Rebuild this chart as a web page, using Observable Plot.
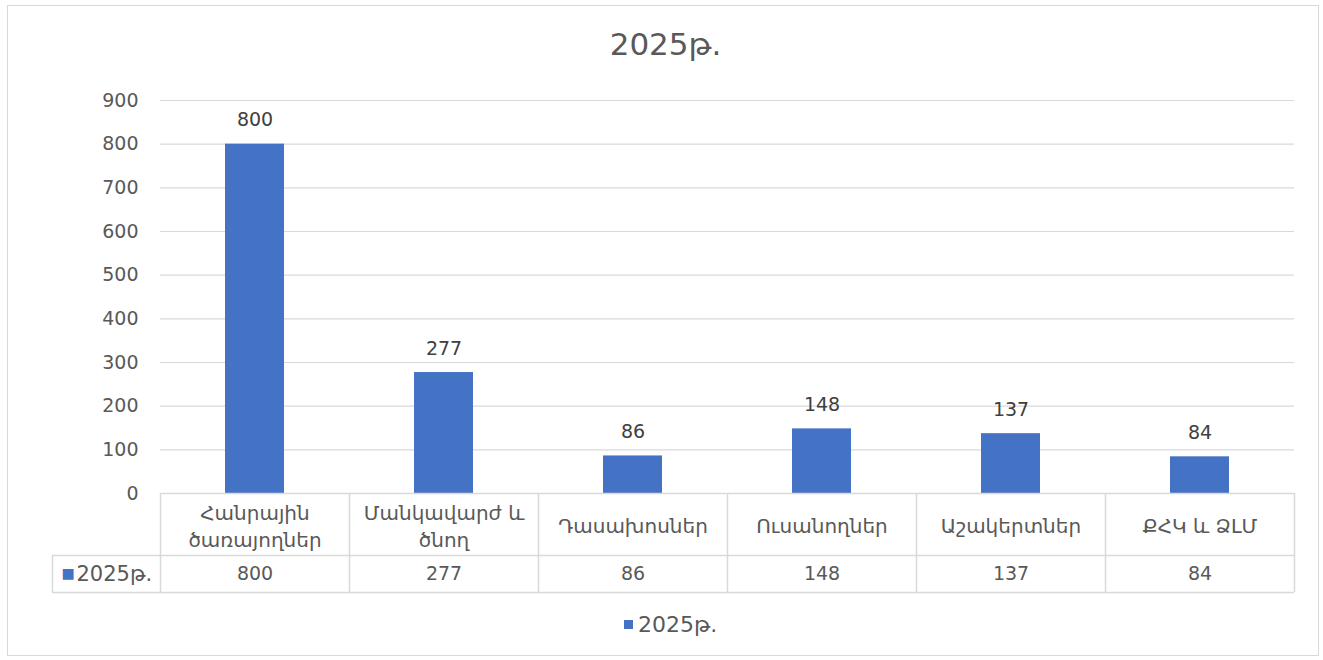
<!DOCTYPE html>
<html>
<head>
<meta charset="utf-8">
<script src="https://cdn.jsdelivr.net/npm/d3@7"></script>
<script src="https://cdn.jsdelivr.net/npm/@observablehq/plot@0.6"></script>
<style>
  html, body { margin: 0; padding: 0; background: #fff; }
  #wrap { position: relative; width: 1323px; height: 660px; overflow: hidden; font-family: "DejaVu Sans", sans-serif; }
  #frame { position: absolute; left: 7px; top: 5px; width: 1312px; height: 651px; border: 1px solid #d9d9d9; box-sizing: border-box; }
  #title { position: absolute; left: 0; width: 1323px; top: 26px; text-align: center; font-size: 31px; color: #595959; padding-left: 8px; box-sizing: border-box; }
  #legend { position: absolute; top: 612px; left: 624px; font-size: 22px; color: #595959; display: flex; align-items: center; }
  #legend .sw { width: 9px; height: 9px; background: #4472c4; margin-right: 5px; }
  #chart { position: absolute; left: 0; top: 0; }
</style>
</head>
<body>
<div id="wrap">
  <div id="frame"></div>
  <div id="chart"></div>
  <div id="title">2025թ.</div>
  <div id="legend"><div class="sw"></div><span>2025թ.</span></div>
</div>
<script>
const seriesName = "2025թ.";
const categories = ["Հանրային ծառայողներ", "Մանկավարժ և ծնող", "Դասախոսներ", "Ուսանողներ", "Աշակերտներ", "ՔՀԿ և ՁԼՄ"];
const tickLabels = ["Հանրային\nծառայողներ", "Մանկավարժ և\nծնող", "Դասախոսներ", "Ուսանողներ", "Աշակերտներ", "ՔՀԿ և ՁԼՄ"];
const values = [800, 277, 86, 148, 137, 84];
const yTicks = [0, 100, 200, 300, 400, 500, 600, 700, 800, 900];

const data = categories.map((c, i) => ({category: c, label: tickLabels[i], value: values[i]}));

const W = 1323, H = 660;
const mL = 160, mR = 29, mT = 100, mB = 167;
const step = (W - mL - mR) / categories.length;
const barW = 59;
const inset = (step - barW) / 2;
const headerH = 62;   // category row height
const valueH = 37;    // value row height
const legendColW = 108;
const gray = "#595959";
const lineC = "#d9d9d9";
const FONT = "DejaVu Sans, sans-serif";

const chart = Plot.plot({
  width: W,
  height: H,
  marginLeft: mL,
  marginRight: mR,
  marginTop: mT,
  marginBottom: mB,
  style: {fontFamily: FONT, background: "transparent", overflow: "visible"},
  x: {domain: categories, padding: 0, axis: null},
  y: {domain: [0, 900], axis: null},
  marks: [
    // horizontal gridlines
    Plot.ruleY(yTicks.filter(d => d > 0), {stroke: lineC, strokeWidth: 1.2}),
    // y tick labels
    Plot.text(yTicks, {y: d => d, text: d => String(d), frameAnchor: "left", textAnchor: "end", dx: -22, fontSize: 19, fill: gray}),
    // bars
    Plot.barY(data, {x: "category", y: "value", fill: "#4472c4", insetLeft: inset, insetRight: inset}),
    // data labels
    Plot.text(data, {x: "category", y: "value", text: d => String(d.value), dy: -24, fontSize: 19, fill: "#404040"}),
    // data table: horizontal lines
    Plot.ruleY([0], {stroke: lineC, strokeWidth: 1.5}),
    Plot.ruleY([0], {stroke: lineC, strokeWidth: 1.5, dy: headerH, insetLeft: -legendColW}),
    Plot.ruleY([0], {stroke: lineC, strokeWidth: 1.5, dy: headerH + valueH, insetLeft: -legendColW}),
    // data table: vertical lines (left edge of each column + right edge)
    Plot.ruleX(data, {x: "category", dx: -step / 2, y1: 0, y2: 0, stroke: lineC, strokeWidth: 1.5,
      insetBottom: -(headerH + valueH)}),
    Plot.ruleX(data.slice(-1), {x: "category", dx: step / 2, y1: 0, y2: 0, stroke: lineC, strokeWidth: 1.5,
      insetBottom: -(headerH + valueH)}),
    Plot.ruleX(data.slice(0, 1), {x: "category", dx: -step / 2 - legendColW, y1: 0, y2: 0, stroke: lineC, strokeWidth: 1.5,
      insetTop: headerH, insetBottom: -(headerH + valueH)}),
    // category labels
    Plot.text(data, {x: "category", text: "label", frameAnchor: "bottom", dy: headerH / 2, lineAnchor: "middle",
      fontSize: 20, fill: gray, lineHeight: 1.35}),
    // value row
    Plot.text(data, {x: "category", text: d => String(d.value), frameAnchor: "bottom", dy: headerH + valueH / 2,
      lineAnchor: "middle", fontSize: 19, fill: gray}),
    // series label in table
    Plot.text([seriesName], {x: () => categories[0], text: d => d, frameAnchor: "bottom", textAnchor: "start",
      dx: -step / 2 - legendColW + 24, dy: headerH + valueH / 2, lineAnchor: "middle", fontSize: 21, fill: gray}),
    Plot.text(["■"], {x: () => categories[0], text: d => d, frameAnchor: "bottom", textAnchor: "start",
      dx: -step / 2 - legendColW + 9, dy: headerH + valueH / 2, lineAnchor: "middle", fontSize: 14, fill: "#4472c4"})
  ]
});
document.getElementById("chart").appendChild(chart);
</script>
</body>
</html>
